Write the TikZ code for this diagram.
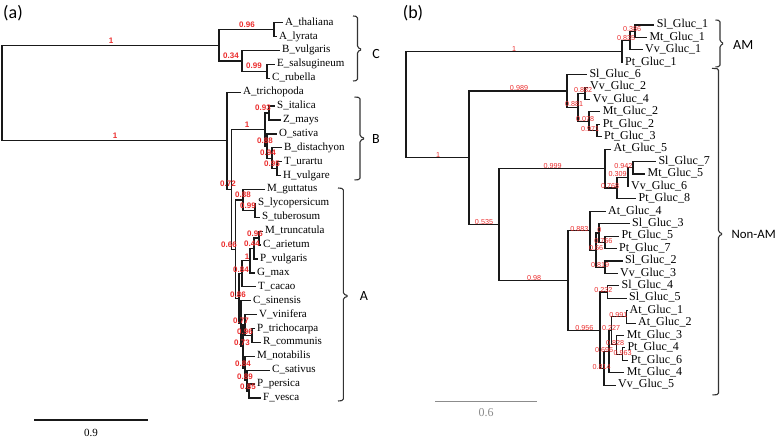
\documentclass[tikz,border=0pt]{standalone}
\usepackage{fontspec}
\setmainfont{Liberation Serif}
\newfontfamily\lblfont{Liberation Sans}
\newfontfamily\grpfont{Carlito}
\definecolor{bsred}{RGB}{235,45,45}
\definecolor{scalegray}{RGB}{140,140,140}
\begin{document}
\begin{tikzpicture}[x=1pt,y=-1pt,
  br/.style={line width=1.35pt, draw=black!90, line join=miter},
  brb/.style={line width=1.15pt, draw=black!90, line join=miter},
  tipA/.style={anchor=west, inner xsep=2.5pt, inner ysep=0pt, font=\fontsize{11}{11}\selectfont, text height=8pt, text depth=3pt},
  tipB/.style={anchor=west, inner xsep=2.5pt, inner ysep=0pt, font=\fontsize{12}{12}\selectfont, text height=8.5pt, text depth=3pt},
  bsA/.style={inner sep=0pt, text=bsred, font=\lblfont\bfseries\fontsize{8}{8}\selectfont},
  bsB/.style={inner sep=0pt, text=bsred, font=\lblfont\fontsize{7.2}{7.2}\selectfont},
  brk/.style={line width=1.1pt, draw=black!80, rounded corners=1.5pt},
  grp/.style={inner sep=0pt, font=\grpfont\fontsize{14}{14}\selectfont},
  ttl/.style={inner sep=0pt, font=\grpfont\fontsize{18}{18}\selectfont},
]
\useasboundingbox (0,0) rectangle (778,438);

% ---------------- panel (a) ----------------
\node[ttl] (ta) at (13,13) {(a)};
\coordinate (ra) at (2,93);
\coordinate (nC) at (219,45.3);
\coordinate (n1) at (274,29.65);
\coordinate (n2) at (242,60.9);
\coordinate (n3) at (267,71.35);
\coordinate (nL) at (227,140.8);
\coordinate (n072) at (231.5,189.4);
\coordinate (nB) at (265,129.55);
\coordinate (nB93) at (269,113.05);
\coordinate (nB88) at (267,146.05);
\coordinate (nB94) at (272,158.2);
\coordinate (nB95) at (277,168.65);
\coordinate (n66) at (235.5,249.3);
\coordinate (nS88) at (243,199.9);
\coordinate (nS99) at (255,210.35);
\coordinate (n86) at (239,298.75);
\coordinate (n84a) at (242,273.8);
\coordinate (n1a) at (250,260.75);
\coordinate (n44) at (254,248.6);
\coordinate (n96a) at (259,238.15);
\coordinate (n77) at (241,323.7);
\coordinate (n73) at (243,346.7);
\coordinate (nY) at (245,325.0);
\coordinate (n96b) at (252,335.45);
\coordinate (n84b) at (245,368.45);
\coordinate (n89) at (247,380.6);
\coordinate (n85) at (249,391.05);

\node[tipA] (tAth) at (282.5,22.7) {A\_thaliana};
\node[tipA] (tAly) at (276.5,36.6) {A\_lyrata};
\node[tipA] (tBvu) at (279.5,50.5) {B\_vulgaris};
\node[tipA] (tEsa) at (274.5,64.4) {E\_salsugineum};
\node[tipA] (tCru) at (269.5,78.3) {C\_rubella};
\node[tipA] (tAtr) at (240.5,92.2) {A\_trichopoda};
\node[tipA] (tSit) at (274.5,106.1) {S\_italica};
\node[tipA] (tZma) at (280.5,120.0) {Z\_mays};
\node[tipA] (tOsa) at (276.5,133.9) {O\_sativa};
\node[tipA] (tBdi) at (281.5,147.8) {B\_distachyon};
\node[tipA] (tTur) at (281.5,161.7) {T\_urartu};
\node[tipA] (tHvu) at (280.5,175.6) {H\_vulgare};
\node[tipA] (tMgu) at (264.5,189.5) {M\_guttatus};
\node[tipA] (tSly) at (255.5,203.4) {S\_lycopersicum};
\node[tipA] (tStu) at (259.5,217.3) {S\_tuberosum};
\node[tipA] (tMtr) at (262.5,231.2) {M\_truncatula};
\node[tipA] (tCar) at (260.5,245.1) {C\_arietum};
\node[tipA] (tPvu) at (257.5,259.0) {P\_vulgaris};
\node[tipA] (tGma) at (254.5,272.9) {G\_max};
\node[tipA] (tTca) at (255.5,286.8) {T\_cacao};
\node[tipA] (tCsi) at (250.5,300.7) {C\_sinensis};
\node[tipA] (tVvi) at (256.5,314.6) {V\_vinifera};
\node[tipA] (tPtr) at (254.5,328.5) {P\_trichocarpa};
\node[tipA] (tRco) at (260.5,342.4) {R\_communis};
\node[tipA] (tMno) at (254.5,356.3) {M\_notabilis};
\node[tipA] (tCsa) at (269.5,370.2) {C\_sativus};
\node[tipA] (tPpe) at (254.5,384.1) {P\_persica};
\node[tipA] (tFve) at (260.5,398.0) {F\_vesca};

\foreach \p/\c in {ra/nC, ra/nL, nC/n1, nC/n2, n1/tAth.west, n1/tAly.west,
  n2/tBvu.west, n2/n3, n3/tEsa.west, n3/tCru.west, nL/tAtr.west, nL/n072,
  n072/nB, n072/n66, nB/nB93, nB/nB88, nB93/tSit.west, nB93/tZma.west,
  nB88/tOsa.west, nB88/nB94, nB94/tBdi.west, nB94/nB95, nB95/tTur.west, nB95/tHvu.west,
  n66/nS88, n66/n86, nS88/tMgu.west, nS88/nS99, nS99/tSly.west, nS99/tStu.west,
  n86/n84a, n86/n77, n84a/n1a, n84a/tTca.west, n1a/n44, n1a/tGma.west,
  n44/n96a, n44/tPvu.west, n96a/tMtr.west, n96a/tCar.west,
  n77/tCsi.west, n77/n73, n73/nY, n73/n84b, nY/tVvi.west, nY/n96b,
  n96b/tPtr.west, n96b/tRco.west, n84b/tMno.west, n84b/n89,
  n89/tCsa.west, n89/n85, n85/tPpe.west, n85/tFve.west}
  \draw[br] (\p) |- (\c);

\foreach \x/\y/\t [count=\i] in {111/41/1, 115/136/1, 247/25/0.96, 231/56/0.34, 254/66/0.99,
  247/125/1, 263/108/0.93, 265/141/0.88, 268/153/0.94, 272/164/0.95, 228/184/0.72,
  243/195/0.88, 248/206/0.99, 229/245/0.66, 255/234/0.96, 252/244/0.44, 247/257/1,
  241/270/0.84, 238/295/0.86, 241/321/0.77, 245/332/0.96, 242/343/0.73, 243/364/0.84,
  245/377/0.89, 248/387/0.85}
  \node[bsA] (la\i) at (\x,\y) {\t};

% brackets (a)
\draw[brk] (353,16) -- (357.5,16.5) -- (357.5,47.5) -- (362,49.5) -- (357.5,51.5) -- (357.5,80.5) -- (353,81);
\node[grp] (gC) at (376,54) {C};
\draw[brk] (354.5,97) -- (360,97.5) -- (360,136.5) -- (365,138.5) -- (360,140.5) -- (360,179.5) -- (354.5,180);
\node[grp] (gB) at (376,139) {B};
\draw[brk] (338,188) -- (343.3,188.5) -- (343.3,294) -- (348.5,296) -- (343.3,298) -- (343.3,400.5) -- (338,401);
\node[grp] (gA) at (364,296) {A};

% scale bar (a)
\coordinate (sa1) at (34,420);
\coordinate (sa2) at (148,420);
\draw[line width=1.5pt, draw=black!90] (sa1) -- (sa2);
\node[inner sep=0pt, font=\fontsize{11}{11}\selectfont] (sal) at (91,433) {0.9};

% ---------------- panel (b) ----------------
\node[ttl] (tb) at (413,13) {(b)};
\coordinate (rb) at (406,104.6);
\coordinate (bAM) at (622,51.4);
\coordinate (b835) at (630,40.5);
\coordinate (b386) at (635,31.2);
\coordinate (bN1) at (469,157.8);
\coordinate (b989) at (567,91.0);
\coordinate (b881) at (578,107.3);
\coordinate (b882) at (585,93.3);
\coordinate (b078) at (589,121.25);
\coordinate (b971) at (597,130.6);
\coordinate (b535) at (499,224.55);
\coordinate (b999) at (605,168.6);
\coordinate (b768) at (617,188.0);
\coordinate (b309) at (628,177.15);
\coordinate (b942) at (633,167.8);
\coordinate (b98) at (568,280.5);
\coordinate (b883) at (590,230.7);
\coordinate (b66) at (596,250.1);
\coordinate (b0) at (599,233.0);
\coordinate (b766) at (605,242.35);
\coordinate (b819) at (605,267.2);
\coordinate (b956) at (600,330.25);
\coordinate (b232) at (607.7,292.0);
\coordinate (b814) at (604,368.5);
\coordinate (b6x) at (609,351.8);
\coordinate (b227) at (611.7,330.85);
\coordinate (b991) at (626.7,316.9);
\coordinate (b828) at (616.7,344.8);
\coordinate (b963) at (622.7,354.1);

\node[tipB] (uSl1) at (654.2,25.0) {Sl\_Gluc\_1};
\node[tipB] (uMt1) at (646.8,37.4) {Mt\_Gluc\_1};
\node[tipB] (uVv1) at (642.5,49.8) {Vv\_Gluc\_1};
\node[tipB] (uPt1) at (622.5,62.3) {Pt\_Gluc\_1};
\node[tipB] (uSl6) at (586.8,74.7) {Sl\_Gluc\_6};
\node[tipB] (uVv2) at (587.5,87.1) {Vv\_Gluc\_2};
\node[tipB] (uVv4) at (590.2,99.5) {Vv\_Gluc\_4};
\node[tipB] (uMt2) at (600.2,111.9) {Mt\_Gluc\_2};
\node[tipB] (uPt2) at (600.2,124.4) {Pt\_Gluc\_2};
\node[tipB] (uPt3) at (601.5,136.8) {Pt\_Gluc\_3};
\node[tipB] (uAt5) at (611,149.2) {At\_Gluc\_5};
\node[tipB] (uSl7) at (655.8,161.6) {Sl\_Gluc\_7};
\node[tipB] (uMt5) at (645,174.0) {Mt\_Gluc\_5};
\node[tipB] (uVv6) at (628.5,186.5) {Vv\_Gluc\_6};
\node[tipB] (uPt8) at (636,198.9) {Pt\_Gluc\_8};
\node[tipB] (uAt4) at (605.5,211.3) {At\_Gluc\_4};
\node[tipB] (uSl3) at (629.5,223.7) {Sl\_Gluc\_3};
\node[tipB] (uPt5) at (619,236.1) {Pt\_Gluc\_5};
\node[tipB] (uPt7) at (616.5,248.6) {Pt\_Gluc\_7};
\node[tipB] (uSl2) at (622.5,261.0) {Sl\_Gluc\_2};
\node[tipB] (uVv3) at (617.5,273.4) {Vv\_Gluc\_3};
\node[tipB] (uSl4) at (619,285.8) {Sl\_Gluc\_4};
\node[tipB] (uSl5) at (626.5,298.2) {Sl\_Gluc\_5};
\node[tipB] (uAt1) at (627,310.7) {At\_Gluc\_1};
\node[tipB] (uAt2) at (635.5,323.1) {At\_Gluc\_2};
\node[tipB] (uMt3) at (624.2,335.5) {Mt\_Gluc\_3};
\node[tipB] (uPt4) at (624.8,347.9) {Pt\_Gluc\_4};
\node[tipB] (uPt6) at (628.2,360.3) {Pt\_Gluc\_6};
\node[tipB] (uMt4) at (624.2,372.8) {Mt\_Gluc\_4};
\node[tipB] (uVv5) at (615.5,385.2) {Vv\_Gluc\_5};

\foreach \p/\c in {rb/bAM, rb/bN1, bAM/b835, bAM/uPt1.west, b835/b386, b835/uVv1.west,
  b386/uSl1.west, b386/uMt1.west, bN1/b989, bN1/b535,
  b989/uSl6.west, b989/b881, b881/b882, b881/b078, b882/uVv2.west, b882/uVv4.west,
  b078/uMt2.west, b078/b971, b971/uPt2.west, b971/uPt3.west,
  b535/b999, b535/b98, b999/uAt5.west, b999/b768, b768/b309, b768/uPt8.west,
  b309/b942, b309/uVv6.west, b942/uSl7.west, b942/uMt5.west,
  b98/b883, b98/b956, b883/uAt4.west, b883/b66, b66/b0, b66/b819,
  b0/uSl3.west, b0/b766, b766/uPt5.west, b766/uPt7.west, b819/uSl2.west, b819/uVv3.west,
  b956/b232, b956/b814, b232/uSl4.west, b232/uSl5.west, b814/b6x, b814/uVv5.west,
  b6x/b227, b6x/uMt4.west, b227/b991, b227/b828, b991/uAt1.west, b991/uAt2.west,
  b828/uMt3.west, b828/b963, b963/uPt4.west, b963/uPt6.west}
  \draw[brb] (\p) |- (\c);

\foreach \x/\y/\t [count=\i] in {514/49/1, 438/155/1, 632/29/0.386, 626/38/0.835,
  519/88/0.989, 583/90/0.882, 574/104/0.881, 585/119/0.078, 590/129/0.971,
  552.7/166.5/0.999, 623.3/165.7/0.942, 617.7/174.3/0.309, 610/186/0.768,
  484/222/0.535, 534/278.5/0.98, 579.3/229/0.883, 599.3/230/0, 603.3/240.7/0.766,
  596/247.7/0.66, 600/265/0.819, 584.3/328.3/0.956, 603.3/290/0.232, 618.3/315/0.991,
  611/328.3/0.227, 615/342.7/0.828, 604/350/0.696, 622.5/353/0.963, 601.7/366.7/0.814}
  \node[bsB] (lb\i) at (\x,\y) {\t};

% brackets (b)
\draw[brk] (715.5,20) -- (720,20.5) -- (720,41.5) -- (724,43.5) -- (720,45.5) -- (720,66.5) -- (715.5,67);
\node[grp, anchor=west] (gAM) at (733,45) {AM};
\draw[brk] (712,68.3) -- (718.5,68.8) -- (718.5,232) -- (723,234) -- (718.5,236) -- (718.5,394.5) -- (712.5,395);
\node[grp, anchor=west, font=\grpfont\fontsize{12.8}{12.8}\selectfont] (gNon) at (731.5,234) {Non-AM};

% scale bar (b)
\coordinate (sb1) at (435,401.7);
\coordinate (sb2) at (537.3,401.7);
\draw[line width=1.1pt, draw=scalegray] (sb1) -- (sb2);
\node[inner sep=0pt, text=scalegray, font=\fontsize{12}{12}\selectfont] (sbl) at (486,412.5) {0.6};
\end{tikzpicture}
\end{document}
